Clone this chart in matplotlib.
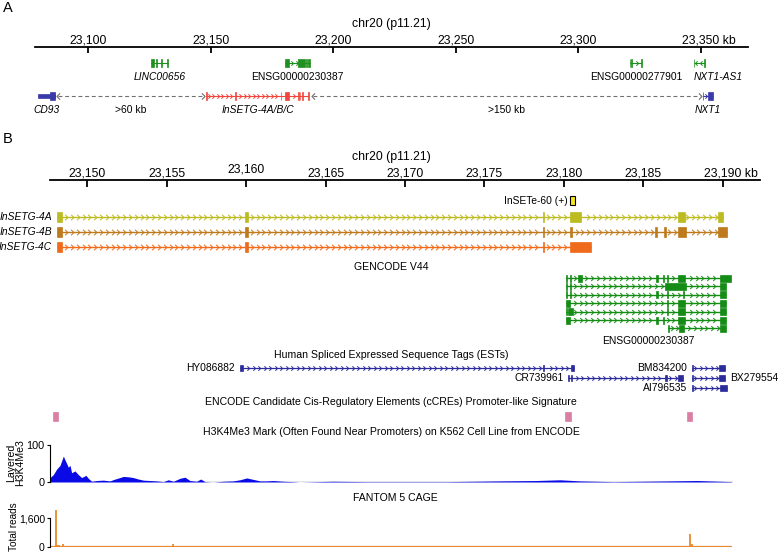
import numpy as np
import matplotlib
matplotlib.use("Agg")
import matplotlib.pyplot as plt
from matplotlib.path import Path
from matplotlib.patches import Rectangle
from matplotlib.transforms import ScaledTranslation

plt.rcParams['font.family'] = ['Liberation Sans', 'DejaVu Sans']

# ---------------- data ----------------
chrom_label = "chr20 (p11.21)"
a_ticks = [23100, 23150, 23200, 23250, 23300, 23350]
b_ticks = [23150, 23155, 23160, 23165, 23170, 23175, 23180, 23185, 23190]

# panel A genes (kb)
a_names = ["LINC00656", "ENSG00000230387", "ENSG00000277901", "NXT1-AS1",
           "CD93", "InSETG-4A/B/C", "NXT1"]
a_starts = [23125.6, 23180.2, 23321.0, 23347.0, 23079.6, 23148.1, 23350.8]
a_ends = [23132.6, 23190.5, 23325.8, 23351.7, 23086.6, 23190.25, 23354.9]
a_thick = [None, None, None, None, (23084.4, 23086.6), None, None]
a_exons = [
    [(23125.6, 23127.0), (23127.7, 23127.9), (23129.7, 23129.9), (23132.3, 23132.6)],
    [(23180.2, 23182.0), (23185.7, 23188.4), (23189.0, 23189.2), (23189.8, 23190.5)],
    [(23321.0, 23321.2), (23321.6, 23321.8), (23325.6, 23325.8)],
    [(23347.0, 23347.3), (23351.4, 23351.7)],
    [(23079.6, 23086.6)],
    [(23148.1, 23148.45), (23159.95, 23160.1), (23178.65, 23178.75), (23180.4, 23181.7),
     (23185.75, 23185.85), (23186.3, 23186.4), (23187.2, 23187.7), (23189.7, 23190.25)],
    [(23350.8, 23351.0), (23352.8, 23354.9)],
]
a_strands = ['+', '+', '+', '-', '-', '+', '+']
a_gap_starts = [23087.6, 23191.7]
a_gap_ends = [23146.8, 23349.6]
a_gap_labels = [">60 kb", ">150 kb"]

# panel B: InSETG isoforms
ins_names = ["InSETG-4A", "InSETG-4B", "InSETG-4C"]
ins_starts = [23148.1, 23148.1, 23148.1]
ins_ends = [23190.0, 23190.25, 23181.7]
ins_exons = [
    [(23148.1, 23148.45), (23159.95, 23160.1), (23178.65, 23178.75), (23180.4, 23181.1),
     (23187.2, 23187.6), (23189.7, 23190.0)],
    [(23148.1, 23148.45), (23159.95, 23160.1), (23178.65, 23178.75), (23180.4, 23180.5),
     (23185.75, 23185.85), (23186.3, 23186.4), (23187.2, 23187.7), (23189.7, 23190.25)],
    [(23148.1, 23148.45), (23159.95, 23160.1), (23178.65, 23178.75), (23180.4, 23181.7)],
]
inse_name = "InSETe-60 (+)"
inse_start, inse_end = 23180.4, 23180.7

# GENCODE V44 ENSG00000230387 transcripts
gc_name = "ENSG00000230387"
gc_starts = [23180.1, 23180.1, 23180.1, 23180.1, 23180.1, 23180.1, 23186.55]
gc_ends = [23190.5, 23190.2, 23190.2, 23190.2, 23190.2, 23190.2, 23190.2]
gc_exons = [
    [(23180.1, 23180.16), (23180.36, 23180.42), (23180.88, 23181.14), (23185.8, 23185.93),
     (23186.22, 23186.28), (23186.47, 23186.53), (23187.2, 23187.64), (23189.8, 23190.5)],
    [(23180.1, 23180.16), (23180.4, 23180.46), (23186.37, 23187.7), (23189.8, 23190.2)],
    [(23180.1, 23180.16), (23180.36, 23180.42), (23185.8, 23185.93), (23186.47, 23186.53),
     (23187.48, 23187.54), (23189.8, 23190.2)],
    [(23180.1, 23180.4), (23186.47, 23186.53), (23187.2, 23187.64), (23189.8, 23190.2)],
    [(23180.1, 23180.16), (23180.27, 23180.57), (23186.47, 23186.53), (23187.2, 23187.64),
     (23189.8, 23190.2)],
    [(23180.1, 23180.4), (23185.8, 23185.93), (23186.22, 23186.28), (23187.2, 23187.64),
     (23189.8, 23190.2)],
    [(23186.55, 23186.6), (23187.25, 23187.55), (23189.8, 23190.2)],
]

# ESTs
est_names = ["HY086882", "CR739961", "BM834200", "BX279554", "AI796535"]
est_starts = [23159.6, 23180.25, 23188.05, 23188.05, 23188.05]
est_ends = [23180.6, 23187.5, 23190.13, 23190.13, 23190.26]
est_exons = [
    [(23159.6, 23159.8), (23178.65, 23178.75), (23180.45, 23180.6)],
    [(23180.25, 23180.3), (23180.43, 23180.48), (23186.38, 23186.46), (23187.19, 23187.5)],
    [(23188.05, 23188.1), (23189.76, 23190.13)],
    [(23188.05, 23188.1), (23189.76, 23190.13)],
    [(23188.05, 23188.1), (23189.82, 23190.26)],
]

# ENCODE cCREs (promoter-like)
ccre_starts = [23147.85, 23180.06, 23187.75]
ccre_ends = [23148.16, 23180.44, 23188.06]

# H3K4Me3 signal (K562)
h3_pos = [23147.67, 23147.88, 23148.09, 23148.30, 23148.51, 23148.61, 23148.72, 23148.82,
          23148.93, 23149.03, 23149.24, 23149.45, 23149.66, 23149.93, 23150.08, 23150.29,
          23150.60, 23151.02, 23151.44, 23151.76, 23152.07, 23152.28, 23152.60, 23152.91,
          23153.23, 23153.54, 23153.96, 23154.38, 23154.80, 23155.11, 23155.43, 23155.85,
          23156.16, 23156.47, 23156.89, 23157.15, 23157.42, 23157.94, 23158.57, 23159.20,
          23159.62, 23160.04, 23160.46, 23160.88, 23161.30, 23161.72, 23162.35, 23162.97,
          23163.39, 23165.49, 23167.59, 23169.68, 23172.60, 23175.97, 23178.28, 23179.75,
          23181.00, 23183.10, 23188.40, 23190.55]
h3_val = [12, 20, 35, 45, 70, 60, 50, 40,
          45, 25, 30, 20, 12, 18, 10, 2,
          4, 5, 3, 8, 12, 15, 14, 12,
          8, 5, 4, 3, 1, 6, 2, 10,
          13, 4, 2, 8, 1, 0, 2, 3,
          6, 11, 7, 3, 3, 4, 2, 1,
          0, 2, 1, 1, 1, 3, 4, 6,
          3, 1, 4, 1]

# FANTOM5 CAGE total reads
cage_pos = [23147.83, 23148.04, 23148.13, 23148.25, 23148.40, 23148.50, 23152.49,
            23155.39, 23156.36, 23187.92, 23188.03]
cage_val = [40, 2050, 100, 130, 60, 150, 70, 150, 30, 700, 150]
cage_span = (23147.67, 23190.55)

# ---------------- styling ----------------
W, H = 778, 553
fig = plt.figure(figsize=(W / 100, H / 100), dpi=100)

C_GREEN_A = '#1f8f1f'
C_GREEN = '#158c15'
C_BLUE = '#3a3aa8'
C_EST = '#2b2b9c'
C_RED = '#f0463c'
C_INS = ['#bdbb22', '#bf7a1e', '#ef6a1a']
C_YEL = '#f5e61e'
C_PINK = '#d97fa3'
C_H3 = '#0a0ae6'
C_CAGE = '#e8882e'
FS_TICK = 8.8
FS_LAB = 7.4
FS_TITLE = 7.6

CHEV_R = Path([(-0.5, 1), (0.5, 0), (-0.5, -1)], [Path.MOVETO, Path.LINETO, Path.LINETO])
CHEV_L = Path([(0.5, 1), (-0.5, 0), (0.5, -1)], [Path.MOVETO, Path.LINETO, Path.LINETO])


def fax(x0, y0, x1, y1):
    return fig.add_axes([x0 / W, 1 - y1 / H, (x1 - x0) / W, (y1 - y0) / H])


def ppu(ax):
    a, b = ax.get_xlim()
    return ax.get_position().width * W / (b - a)


def draw_tx(ax, y, start, end, exons, color, h, strand='+', sp_px=6.0, ms=3.6,
            lw=0.9, thick=None):
    k = ppu(ax)
    ax.plot([start, end], [y, y], color=color, lw=lw, solid_capstyle='butt', zorder=2)
    sp = sp_px / k
    xs = np.arange(start + sp * 0.6, end - sp * 0.4, sp)
    m = 1.6 / k
    keep = [x for x in xs if not any(s - m <= x <= e + m for s, e in exons)]
    ax.plot(keep, [y] * len(keep), ls='none', marker=CHEV_R if strand == '+' else CHEV_L,
            ms=ms, mec=color, mfc='none', mew=0.7, zorder=2)
    for s, e in exons:
        if thick is None:
            ax.add_patch(Rectangle((s, y - h / 2), e - s, h, fc=color, ec=color, lw=0.5, zorder=3))
        else:
            ts, te = thick
            ax.add_patch(Rectangle((s, y - h / 4), e - s, h / 2, fc=color, ec=color, lw=0.5, zorder=3))
            a, b = max(s, ts), min(e, te)
            if b > a:
                ax.add_patch(Rectangle((a, y - h / 2), b - a, h, fc=color, ec=color, lw=0.5, zorder=3))


def side_label(ax, x, y, s, side, off_px=4, fs=FS_LAB, **kw):
    dx = off_px * 0.72 * (-1 if side == 'left' else 1)
    ax.annotate(s, (x, y), xytext=(dx, 0), textcoords='offset points',
                ha='right' if side == 'left' else 'left', va='center', fontsize=fs, **kw)


def ruler(ax, ticks, tick_len, label_pad):
    for sp in ['left', 'right', 'bottom']:
        ax.spines[sp].set_visible(False)
    ax.spines['top'].set_linewidth(1.3)
    ax.xaxis.tick_top()
    ax.set_xticks(ticks)
    labels = [f"{t:,}" for t in ticks]
    labels[-1] += " kb"
    ax.set_xticklabels(labels)
    ax.tick_params(axis='x', direction='in', length=tick_len, width=1.3, pad=label_pad,
                   labelsize=FS_TICK, top=True, bottom=False)
    ax.set_yticks([])
    ax.patch.set_alpha(0)


def shift_last_label(ax):
    # keep the number centred on its tick while " kb" trails to the right
    t = ax.xaxis.get_major_ticks()[-1].label2
    t.set_transform(t.get_transform() + ScaledTranslation(5.9 / 72, 0, fig.dpi_scale_trans))


# ---------------- panel A ----------------
fig.text(3 / W, 1 - 8 / H, "A", fontsize=10.5, ha='left', va='center')
fig.text(391 / W, 1 - 24 / H, chrom_label, fontsize=FS_TICK, ha='center', va='center')
axA = fax(35, 47, 748, 122)
axA.set_xlim(23078.25, 23369.2)
axA.set_ylim(122, 47)
ruler(axA, a_ticks, 4.3, 0.4)
shift_last_label(axA)

a_rows = [63, 63, 63, 63, 96, 96, 96]
a_colors = [C_GREEN_A, C_GREEN_A, C_GREEN_A, C_GREEN_A, C_BLUE, C_RED, C_BLUE]
a_italic = [True, False, False, True, True, True, True]
a_align = ['center', 'center', 'center', 'left', 'center', 'center', 'center']
for i, nm in enumerate(a_names):
    y = a_rows[i]
    draw_tx(axA, y, a_starts[i], a_ends[i], a_exons[i], a_colors[i], 8, a_strands[i],
            sp_px=4.5, ms=3.2, lw=0.8, thick=a_thick[i])
    x = a_starts[i] if a_align[i] == 'left' else (a_starts[i] + a_ends[i]) / 2
    axA.text(x, y + 14, nm, ha=a_align[i], va='center', fontsize=FS_LAB,
             style='italic' if a_italic[i] else 'normal')
for s, e, lab in zip(a_gap_starts, a_gap_ends, a_gap_labels):
    axA.plot([s, e], [96, 96], color='#707070', lw=0.8, ls=(0, (3.5, 2.5)))
    axA.plot([s], [96], ls='none', marker=CHEV_L, ms=4.5, mec='#707070', mfc='none', mew=0.8)
    axA.plot([e], [96], ls='none', marker=CHEV_R, ms=4.5, mec='#707070', mfc='none', mew=0.8)
    axA.text((s + e) / 2, 110, lab, ha='center', va='center', fontsize=FS_LAB)

# ---------------- panel B ----------------
fig.text(3 / W, 1 - 139 / H, "B", fontsize=10.5, ha='left', va='center')
fig.text(391 / W, 1 - 157 / H, chrom_label, fontsize=FS_TICK, ha='center', va='center')
XB = (23147.67, 23192.33)
axB = fax(50, 180, 760, 430)
axB.set_xlim(*XB)
axB.set_ylim(430, 180)
ruler(axB, b_ticks, 5.0, 0.3)
axB.xaxis.get_major_ticks()[2].set_pad(3.2)
shift_last_label(axB)

# InSETe-60
axB.add_patch(Rectangle((inse_start, 196), inse_end - inse_start, 9, fc=C_YEL, ec='black',
                        lw=0.8, zorder=3))
side_label(axB, inse_start, 200.5, inse_name, 'left', off_px=2.5)

# InSETG isoforms
for i, nm in enumerate(ins_names):
    y = 217 + 15 * i
    draw_tx(axB, y, ins_starts[i], ins_ends[i], ins_exons[i], C_INS[i], 10, '+',
            sp_px=5.8, ms=4.0, lw=1.0)
    side_label(axB, ins_starts[i], y, nm, 'left', off_px=5, style='italic')

# GENCODE
fig.text(391 / W, 1 - 267 / H, "GENCODE V44", fontsize=FS_TITLE, ha='center', va='center')
for i in range(len(gc_starts)):
    y = 278 + 8.4 * i
    draw_tx(axB, y, gc_starts[i], gc_ends[i], gc_exons[i], C_GREEN, 7, '+',
            sp_px=5.8, ms=3.6, lw=1.0)
axB.text((gc_starts[0] + gc_ends[0]) / 2, 341, gc_name, ha='center', va='center',
         fontsize=FS_LAB)

# ESTs
fig.text(391 / W, 1 - 355 / H, "Human Spliced Expressed Sequence Tags (ESTs)",
         fontsize=FS_TITLE, ha='center', va='center')
est_rows = [368, 378, 368, 378, 388]
est_side = ['left', 'left', 'left', 'right', 'left']
for i, nm in enumerate(est_names):
    y = est_rows[i]
    draw_tx(axB, y, est_starts[i], est_ends[i], est_exons[i], C_EST, 6, '+',
            sp_px=5.5, ms=3.2, lw=0.9)
    if est_side[i] == 'left':
        side_label(axB, est_starts[i], y, nm, 'left', off_px=4.5)
    else:
        side_label(axB, est_ends[i], y, nm, 'right', off_px=5)

# cCREs
fig.text(391 / W, 1 - 402 / H,
         "ENCODE Candidate Cis-Regulatory Elements (cCREs) Promoter-like Signature",
         fontsize=FS_TITLE, ha='center', va='center')
for s, e in zip(ccre_starts, ccre_ends):
    axB.add_patch(Rectangle((s, 412), e - s, 9, fc=C_PINK, ec=C_PINK, lw=0.5))

# H3K4Me3 track
fig.text(391 / W, 1 - 432 / H,
         "H3K4Me3 Mark (Often Found Near Promoters) on K562 Cell Line from ENCODE",
         fontsize=FS_TITLE, ha='center', va='center')
axH = fax(50, 445, 760, 482)
axH.set_xlim(*XB)
axH.set_ylim(0, 100)
axH.plot([h3_pos[0], h3_pos[-1]], [0, 0], color='#7a7a7a', lw=1.0, zorder=1)
axH.fill_between(h3_pos, 0, h3_val, color=C_H3, lw=0, zorder=2)
axH.patch.set_alpha(0)
for sp in ['top', 'right', 'bottom']:
    axH.spines[sp].set_visible(False)
axH.spines['left'].set_linewidth(0.8)
axH.set_xticks([])
axH.set_yticks([0, 100])
axH.set_yticklabels(["0", "100"])
axH.tick_params(axis='y', length=2.5, width=0.8, pad=1.5, labelsize=7.8)
fig.text(15.5 / W, 1 - 463 / H, "Layered\nH3K4Me3", rotation=90, fontsize=FS_TITLE,
         ha='center', va='center', linespacing=0.95)

# FANTOM5 CAGE  (1,600 tick at 518 px, taller reads drawn above it)
fig.text(395 / W, 1 - 498 / H, "FANTOM 5 CAGE", fontsize=FS_TITLE, ha='center', va='center')
axC = fax(50, 508, 760, 547)
axC.set_xlim(*XB)
axC.set_ylim(0, 1600 * 39 / 29)
axC.plot(list(cage_span), [0, 0], color=C_CAGE, lw=1.6, zorder=1, solid_capstyle='butt')
axC.vlines(cage_pos, 0, cage_val, color=C_CAGE, lw=1.3, zorder=2)
axC.patch.set_alpha(0)
for sp in ['top', 'right', 'bottom']:
    axC.spines[sp].set_visible(False)
axC.spines['left'].set_linewidth(0.8)
axC.spines['left'].set_bounds(0, 1600)
axC.set_xticks([])
axC.set_yticks([0, 1600])
axC.set_yticklabels(["0", "1,600"])
axC.tick_params(axis='y', length=2.5, width=0.8, pad=1.2, labelsize=7.6)
fig.text(14 / W, 1 - 527 / H, "Total reads", rotation=90, fontsize=7.2,
         ha='center', va='center')

fig.savefig("out.png", dpi=100)
